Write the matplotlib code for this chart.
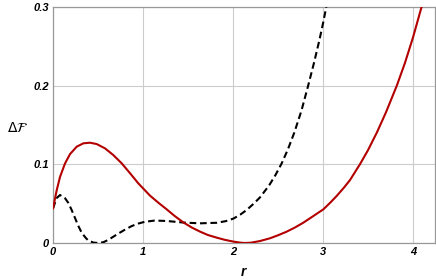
import matplotlib
matplotlib.use('Agg')
import matplotlib.pyplot as plt

plt.rcParams['font.family'] = ['Liberation Sans', 'DejaVu Sans']

# red solid curve
r_red = [0.0, 0.011, 0.041, 0.078, 0.133, 0.189, 0.263, 0.337, 0.411, 0.485, 0.578,
         0.67, 0.763, 0.856, 0.948, 1.078, 1.17, 1.263, 1.35, 1.448, 1.54, 1.633,
         1.72, 1.819, 1.91, 2.004, 2.07, 2.13, 2.20, 2.30, 2.411, 2.50, 2.596, 2.69,
         2.781, 2.893, 3.004, 3.08, 3.152, 3.23, 3.30, 3.41, 3.50, 3.60, 3.70, 3.82,
         3.91, 4.00, 4.095, 4.13]
f_red = [0.044, 0.050, 0.067, 0.084, 0.101, 0.113, 0.1224, 0.1267, 0.1275, 0.1258, 0.1203,
         0.1118, 0.1013, 0.0887, 0.0758, 0.0602, 0.0513, 0.0428, 0.0345, 0.0262, 0.0198, 0.0145,
         0.0102, 0.0068, 0.0040, 0.0018, 0.0006, 0.0, 0.0004, 0.0025, 0.006, 0.0098, 0.0144, 0.0198,
         0.0258, 0.0343, 0.0428, 0.0512, 0.0598, 0.0700, 0.0800, 0.100, 0.118, 0.1408, 0.1662, 0.200,
         0.2287, 0.2613, 0.300, 0.315]

# black dashed curve
r_blk = [0.0, 0.04, 0.078, 0.133, 0.17, 0.207, 0.244, 0.28, 0.319, 0.36, 0.393, 0.45,
         0.504, 0.56, 0.615, 0.67, 0.726, 0.80, 0.874, 0.95, 1.022, 1.13, 1.263, 1.448,
         1.633, 1.819, 1.92, 2.004, 2.08, 2.152, 2.23, 2.30, 2.40, 2.47, 2.54, 2.61,
         2.68, 2.76, 2.835, 2.90, 2.96, 3.00, 3.033, 3.06]
f_blk = [0.044, 0.057, 0.061, 0.057, 0.051, 0.042, 0.032, 0.022, 0.013, 0.007, 0.003, 0.0005,
         0.0, 0.001, 0.004, 0.008, 0.012, 0.017, 0.0215, 0.0248, 0.027, 0.0285, 0.028, 0.026,
         0.025, 0.0257, 0.0278, 0.031, 0.036, 0.042, 0.050, 0.058, 0.073, 0.086, 0.101, 0.119,
         0.140, 0.168, 0.200, 0.229, 0.258, 0.279, 0.298, 0.316]

x_ticks = [0, 1, 2, 3, 4]
y_ticks = [0, 0.1, 0.2, 0.3]
y_tick_labels = ['0', '0.1', '0.2', '0.3']

fig = plt.figure(figsize=(4.36, 2.8), dpi=100)
ax = fig.add_axes([53/436, 37/280, 382/436, 236/280])

ax.plot(r_blk, f_blk, color='black', lw=1.5, ls=(0, (3.2, 1.8)), zorder=3)
ax.plot(r_red, f_red, color='#b30000', lw=1.5, zorder=4)

ax.set_xlim(0, 382/90)
ax.set_ylim(0, 0.3)
ax.set_xticks(x_ticks)
ax.set_yticks(y_ticks)
ax.set_yticklabels(y_tick_labels)
ax.grid(True, color='#cccccc', lw=0.8)
ax.set_axisbelow(True)
ax.tick_params(length=0, pad=3, labelsize=8)
for lab in ax.get_xticklabels() + ax.get_yticklabels():
    lab.set_fontweight('bold')
    lab.set_fontstyle('italic')
for sp in ax.spines.values():
    sp.set_color('#999999')
    sp.set_linewidth(0.9)

fig.text(243/436, 1 - 272/280, 'r', ha='center', va='center',
         fontsize=10, fontweight='bold', fontstyle='italic')
fig.text(18/436, 1 - 128/280, r'$\Delta\mathcal{F}$', ha='center', va='center',
         fontsize=10)

fig.savefig('out.png', dpi=100)
